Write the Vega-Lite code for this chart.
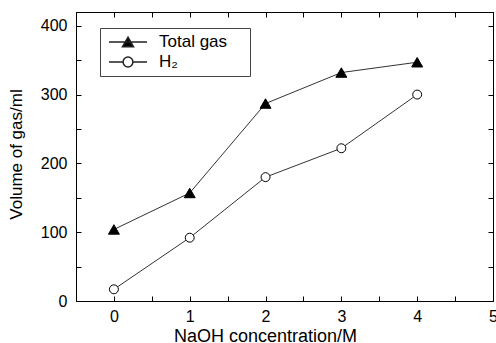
{
  "$schema": "https://vega.github.io/schema/vega-lite/v6.json",
  "width": 417,
  "height": 289,
  "autosize": {"type": "none"},
  "padding": {"left": 76, "top": 12, "right": 3, "bottom": 42},
  "background": "white",
  "config": {
    "font": "Liberation Sans",
    "view": {"stroke": "black", "strokeWidth": 1},
    "axis": {
      "domainColor": "black",
      "domainWidth": 1,
      "tickColor": "black",
      "tickWidth": 1,
      "tickSize": -5,
      "labelColor": "black",
      "titleColor": "black",
      "labelFont": "Liberation Sans",
      "titleFont": "Liberation Sans",
      "labelFontSize": 16,
      "titleFontSize": 17,
      "titleFontWeight": "normal",
      "grid": false,
      "labelOverlap": false,
      "labelFlush": false
    }
  },
  "data": {
    "values": [
      {"c": 0, "v": 104, "series": "Total gas"},
      {"c": 1, "v": 157, "series": "Total gas"},
      {"c": 2, "v": 287, "series": "Total gas"},
      {"c": 3, "v": 332, "series": "Total gas"},
      {"c": 4, "v": 347, "series": "Total gas"},
      {"c": 0, "v": 17, "series": "H₂"},
      {"c": 1, "v": 92, "series": "H₂"},
      {"c": 2, "v": 180, "series": "H₂"},
      {"c": 3, "v": 222, "series": "H₂"},
      {"c": 4, "v": 300, "series": "H₂"}
    ]
  },
  "layer": [
    {
      "mark": {"type": "line", "stroke": "#333", "strokeWidth": 1},
      "encoding": {
        "x": {
          "field": "c", "type": "quantitative",
          "scale": {"domain": [-0.5, 5], "nice": false, "zero": false},
          "axis": {
            "orient": "bottom",
            "values": [0, 0.5, 1, 1.5, 2, 2.5, 3, 3.5, 4, 4.5, 5],
            "labelExpr": "datum.value % 1 === 0 ? format(datum.value, 'd') : ''",
            "labelPadding": 12,
            "title": "NaOH concentration/M",
            "titleFontSize": 18,
            "titleX": 189,
            "titleY": 40,
            "titleAlign": "center",
            "titleBaseline": "alphabetic",
            "encode": {"ticks": {"update": {"y2": {"signal": "datum.value % 1 === 0 ? -5 : -3"}}}}
          }
        },
        "y": {
          "field": "v", "type": "quantitative",
          "scale": {"domain": [0, 420], "nice": false},
          "axis": {
            "orient": "left",
            "values": [0, 50, 100, 150, 200, 250, 300, 350, 400],
            "labelExpr": "datum.value % 100 === 0 ? format(datum.value, 'd') : ''",
            "labelPadding": 14,
            "title": "Volume of gas/ml",
            "titleAngle": 270,
            "titleX": -55,
            "titleY": 142,
            "titleAlign": "center",
            "titleBaseline": "alphabetic",
            "encode": {"ticks": {"update": {"x2": {"signal": "datum.value % 100 === 0 ? 5 : 3"}}}}
          }
        },
        "detail": {"field": "series"}
      }
    },
    {
      "mark": {"type": "point", "filled": true, "stroke": "black", "strokeWidth": 1, "opacity": 1},
      "encoding": {
        "x": {
          "field": "c", "type": "quantitative",
          "scale": {"domain": [-0.5, 5], "nice": false, "zero": false},
          "axis": {
            "orient": "top",
            "values": [0, 0.5, 1, 1.5, 2, 2.5, 3, 3.5, 4, 4.5, 5],
            "labels": false,
            "title": null,
            "encode": {"ticks": {"update": {"y2": {"signal": "datum.value % 1 === 0 ? 5 : 3"}}}}
          }
        },
        "y": {
          "field": "v", "type": "quantitative",
          "scale": {"domain": [0, 420], "nice": false},
          "axis": {
            "orient": "right",
            "values": [0, 50, 100, 150, 200, 250, 300, 350, 400],
            "labels": false,
            "title": null,
            "encode": {"ticks": {"update": {"x2": {"signal": "datum.value % 100 === 0 ? -5 : -3"}}}}
          }
        },
        "shape": {
          "field": "series", "type": "nominal",
          "scale": {"domain": ["Total gas", "H₂"], "range": ["triangle-up", "circle"]},
          "legend": null
        },
        "fill": {
          "field": "series", "type": "nominal",
          "scale": {"domain": ["Total gas", "H₂"], "range": ["black", "white"]},
          "legend": null
        },
        "size": {
          "field": "series", "type": "nominal",
          "scale": {"domain": ["Total gas", "H₂"], "range": [120, 80]},
          "legend": null
        }
      }
    },
    {
      "transform": [{"filter": "false"}],
      "mark": {"type": "point", "filled": true, "stroke": "#222", "strokeWidth": 1, "opacity": 1},
      "encoding": {
        "shape": {
          "field": "series", "type": "nominal",
          "scale": {
            "domain": ["Total gas", "H₂"],
            "range": [
              "M-1,0H1M0,-0.25L0.29,0.25L-0.29,0.25Z",
              "M-1,0H-0.26M0.26,0H1M0.26,0A0.26,0.26,0,1,1,-0.26,0A0.26,0.26,0,1,1,0.26,0Z"
            ]
          },
          "legend": {
            "orient": "none",
            "legendX": 24,
            "legendY": 16,
            "title": null,
            "padding": 4,
            "symbolOffset": 4,
            "clipHeight": 20,
            "rowPadding": 0,
            "symbolSize": 1444,
            "labelFont": "Liberation Sans",
            "labelFontSize": 17,
            "labelColor": "black",
            "labelOffset": 11,
            "labelExpr": "datum.label + '\u2003\u200a\u200b'",
            "strokeColor": "#444",
            "fillColor": "white",
            "encode": {
              "symbols": {
                "update": {
                  "stroke": {"value": "#222"},
                  "strokeWidth": {"value": 1},
                  "opacity": {"value": 1},
                  "fillOpacity": {"value": 1},
                  "strokeOpacity": {"value": 1}
                }
              }
            }
          }
        },
        "fill": {
          "field": "series", "type": "nominal",
          "scale": {"domain": ["Total gas", "H₂"], "range": ["black", "white"]}
        }
      }
    }
  ],
  "resolve": {
    "axis": {"x": "independent", "y": "independent"},
    "scale": {"shape": "independent", "fill": "independent", "size": "independent"}
  }
}
